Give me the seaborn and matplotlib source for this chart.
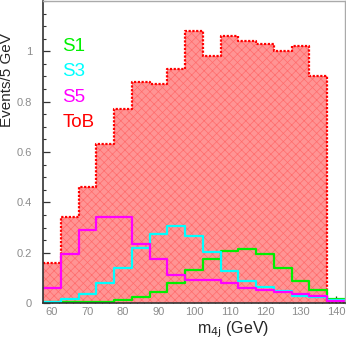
"""
Four-jet invariant mass: ToB background against the S1/S3/S5 signals.
"""

import numpy as np
import matplotlib
matplotlib.use('Agg')
import matplotlib.pyplot as plt
from matplotlib.ticker import MultipleLocator
import seaborn as sns

# bin centres (GeV), 5 GeV wide bins
mass_bins = [60, 65, 70, 75, 80, 85, 90, 95, 100, 105, 110, 115, 120, 125, 130, 135, 140]

tob = [0.16, 0.34, 0.46, 0.63, 0.77, 0.88, 0.87, 0.93, 1.08, 0.98,
       1.06, 1.04, 1.03, 1.00, 1.02, 0.90, 0.0]
s1 = [0.002, 0.002, 0.003, 0.005, 0.012, 0.024, 0.045, 0.08, 0.13, 0.175,
      0.207, 0.213, 0.194, 0.138, 0.088, 0.05, 0.017]
s3 = [0.004, 0.015, 0.037, 0.078, 0.138, 0.217, 0.275, 0.306, 0.268, 0.204,
      0.126, 0.089, 0.062, 0.048, 0.028, 0.022, 0.012]
s5 = [0.058, 0.195, 0.29, 0.341, 0.341, 0.233, 0.174, 0.11, 0.092, 0.092,
      0.08, 0.058, 0.053, 0.045, 0.034, 0.028, 0.008]

y_ticks = [0, 0.2, 0.4, 0.6, 0.8, 1.0]
y_tick_labels = ['0', '0.2', '0.4', '0.6', '0.8', '1']
x_ticks = [60, 70, 80, 90, 100, 110, 120, 130, 140]

signals = [('S1', s1, '#00f000'), ('S3', s3, '#00ffff'), ('S5', s5, '#ff00ff')]

sns.set_style('ticks')
plt.rcParams['font.family'] = ['Liberation Sans', 'DejaVu Sans']
plt.rcParams['hatch.linewidth'] = 0.5

edges = [float(e) for e in np.arange(57.5, 143, 5)]

fig, ax = plt.subplots(figsize=(3.46, 3.42), dpi=100)
fig.subplots_adjust(left=43 / 346, right=345 / 346, bottom=1 - 303 / 342, top=1 - 1 / 342)

# background: hatched fill plus dotted outline
sns.histplot(x=mass_bins, weights=tob, bins=edges, element='step', fill=True,
             color='#ff9494', alpha=1, edgecolor='#ff6c6c', linewidth=0,
             hatch='xxxx', ax=ax)
sns.histplot(x=mass_bins, weights=tob, bins=edges, element='step', fill=False,
             color='#ff0000', linewidth=1.6, linestyle=(0, (1, 0.7)), ax=ax)

for name, vals, col in signals:
    sns.histplot(x=mass_bins, weights=vals, bins=edges, element='step', fill=False,
                 color=col, linewidth=1.6, ax=ax)

ax.set_xlim(57.5, 142.5)
ax.set_ylim(0, 1.2)

ax.set_yticks(y_ticks)
ax.set_yticklabels(y_tick_labels)
ax.set_xticks(x_ticks)
ax.yaxis.set_minor_locator(MultipleLocator(0.05))
ax.xaxis.set_minor_locator(MultipleLocator(2))
ax.tick_params(which='both', direction='in', colors='#333333', labelcolor='#8c8c8c',
               labelsize=8)
ax.tick_params(which='major', length=5, width=0.9)
ax.tick_params(which='minor', length=2.5, width=0.8)
ax.tick_params(axis='y', pad=8)
ax.tick_params(axis='x', pad=3)

for side in ['left', 'bottom']:
    ax.spines[side].set_color('#333333')
    ax.spines[side].set_linewidth(1.2)
for side in ['top', 'right']:
    ax.spines[side].set_visible(True)
    ax.spines[side].set_color('#aaaaaa')
    ax.spines[side].set_linewidth(1.0)

ax.set_xlabel(r'm$_{\rm 4j}$ (GeV)', fontsize=11.5)
ax.xaxis.set_label_coords(0.63, -0.055)
ax.set_ylabel('')
ax.text(-0.12, 0.7376, 'Events/5 GeV', fontsize=11, rotation=90,
        ha='center', va='center', transform=ax.transAxes)

# colour-coded sample names
labels = [('S1', '#00f000'), ('S3', '#00ffff'), ('S5', '#ff00ff'), ('ToB', '#ff0000')]
for i, (txt, col) in enumerate(labels):
    ax.text(0.064, 0.848 - i * 0.083, txt, color=col, fontsize=13.5,
            transform=ax.transAxes, ha='left', va='center')

plt.savefig('out.png', dpi=100)
plt.close()
